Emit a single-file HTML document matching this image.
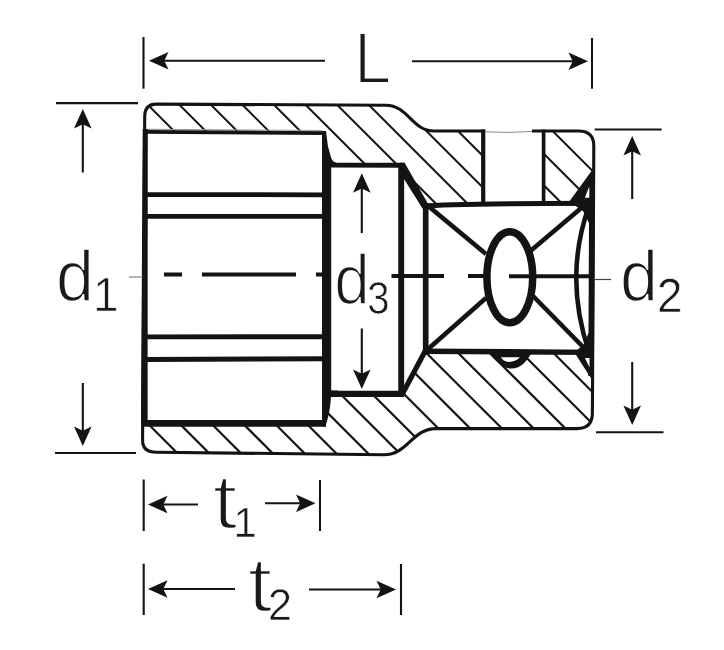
<!DOCTYPE html>
<html><head><meta charset="utf-8">
<style>
html,body{margin:0;padding:0;background:#fff;}
svg{display:block;}
text{font-family:"Liberation Sans",sans-serif;fill:#1a1a1a;stroke:#fff;}
</style></head>
<body>
<svg width="724" height="650" viewBox="0 0 724 650">
<rect width="724" height="650" fill="#fff"/>
<defs>
<filter id="ident" x="0" y="0" width="724" height="650" filterUnits="userSpaceOnUse"><feOffset dx="0" dy="0"/></filter>
<clipPath id="bodyclip"><path d="M144.7,116.5 Q144.7,104.1 156.5,104.1 L386,105.2 C408,105.2 412,131 434,131 L578.5,131 Q593.8,131 593.8,146 L592.4,413 Q592.4,428.6 577,428.6 L436,428.6 C412,428.6 408,454.8 384,454.8 L156.5,452.2 Q142.6,452.2 142.6,440.5 Z"/></clipPath>
</defs>

<!-- hatching -->
<g clip-path="url(#bodyclip)" stroke="#131313" stroke-width="2" fill="none">
<line x1="143.0" y1="100" x2="255.0" y2="212"/>
<line x1="174.6" y1="100" x2="286.6" y2="212"/>
<line x1="206.1" y1="100" x2="318.1" y2="212"/>
<line x1="237.7" y1="100" x2="349.6" y2="212"/>
<line x1="269.2" y1="100" x2="381.2" y2="212"/>
<line x1="300.8" y1="100" x2="412.8" y2="212"/>
<line x1="332.3" y1="100" x2="444.3" y2="212"/>
<line x1="363.9" y1="100" x2="475.9" y2="212"/>
<line x1="395.4" y1="100" x2="507.4" y2="212"/>
<line x1="426.9" y1="100" x2="539.0" y2="212"/>
<line x1="458.5" y1="100" x2="570.5" y2="212"/>
<line x1="490.1" y1="100" x2="602.0" y2="212"/>
<line x1="521.6" y1="100" x2="633.6" y2="212"/>
</g>
<g clip-path="url(#bodyclip)" stroke="#131313" stroke-width="2.2" fill="none">
<line x1="69.2" y1="345" x2="182.2" y2="458"/>
<line x1="100.9" y1="345" x2="213.9" y2="458"/>
<line x1="132.7" y1="345" x2="245.7" y2="458"/>
<line x1="164.4" y1="345" x2="277.4" y2="458"/>
<line x1="196.2" y1="345" x2="309.2" y2="458"/>
<line x1="227.9" y1="345" x2="340.9" y2="458"/>
<line x1="259.7" y1="345" x2="372.7" y2="458"/>
<line x1="291.4" y1="345" x2="404.4" y2="458"/>
<line x1="323.2" y1="345" x2="436.2" y2="458"/>
<line x1="354.9" y1="345" x2="467.9" y2="458"/>
<line x1="386.7" y1="345" x2="499.7" y2="458"/>
<line x1="418.4" y1="345" x2="531.5" y2="458"/>
<line x1="450.2" y1="345" x2="563.2" y2="458"/>
<line x1="481.9" y1="345" x2="595.0" y2="458"/>
<line x1="513.7" y1="345" x2="626.7" y2="458"/>
<line x1="545.5" y1="345" x2="658.5" y2="458"/>
</g>

<!-- cavities (white) -->
<g fill="#fff" stroke="none">
<rect x="145" y="131" width="183" height="292"/>
<rect x="328" y="164" width="74" height="228.5"/>
<polygon points="401,164 426,205 426,351 401,392.5"/>
<rect x="425" y="204" width="168" height="148"/>
<rect x="483" y="131" width="61" height="74"/>
<polygon points="567,205 593,173 593,205"/>
<polygon points="575,351 593,376 593,351"/>
</g>

<!-- labels (thinned with white stroke) -->
<g id="labels" filter="url(#ident)">
<text id="Ltxt" x="354.1" y="82.9" font-size="72" stroke-width="2.1" textLength="37.2" lengthAdjust="spacingAndGlyphs">L</text>
<text x="55.9" y="301.3" font-size="72" stroke-width="1.6" textLength="38" lengthAdjust="spacingAndGlyphs">d</text>
<text x="93" y="311.3" font-size="48" stroke-width="0.7" textLength="25.5" lengthAdjust="spacingAndGlyphs">1</text>
<text x="334.3" y="303.5" font-size="71" stroke-width="1.7" textLength="35.5" lengthAdjust="spacingAndGlyphs">d</text>
<text x="367.3" y="313.7" font-size="46.5" stroke-width="0.7" textLength="22.3" lengthAdjust="spacingAndGlyphs">3</text>
<text x="620" y="301.3" font-size="72" stroke-width="1.6" textLength="38" lengthAdjust="spacingAndGlyphs">d</text>
<text x="657" y="311.6" font-size="47.5" stroke-width="0.6" textLength="25.5" lengthAdjust="spacingAndGlyphs">2</text>
<text x="212.6" y="528.2" font-size="77" stroke-width="2.3" textLength="25" lengthAdjust="spacingAndGlyphs">t</text>
<text x="233.5" y="537.3" font-size="42" stroke-width="0.6">1</text>
<text x="247.6" y="611.2" font-size="77" stroke-width="2.3" textLength="25" lengthAdjust="spacingAndGlyphs">t</text>
<text x="268" y="620.3" font-size="45" stroke-width="0.6" textLength="24" lengthAdjust="spacingAndGlyphs">2</text>
</g>

<!-- outline -->
<path d="M144.7,116.5 Q144.7,104.1 156.5,104.1 L386,105.2 C408,105.2 412,131 434,131 L578.5,131 Q593.8,131 593.8,146 L592.4,413 Q592.4,428.6 577,428.6 L436,428.6 C412,428.6 408,454.8 384,454.8 L156.5,452.2 Q142.6,452.2 142.6,440.5 Z" fill="none" stroke="#131313" stroke-width="3.1"/>

<g stroke="#131313" fill="none" stroke-linecap="butt">
<!-- thin gray line below top hatch -->
<line x1="147" y1="129.4" x2="322" y2="130.5" stroke="#9a9a9a" stroke-width="1.1"/>
<!-- hex cavity -->
<polygon points="142.7,129 147.8,129 147.6,426 141,426" fill="#131313" stroke="none"/>
<line x1="143" y1="131.9" x2="326" y2="133.1" stroke-width="3.6"/>
<line x1="143" y1="423.3" x2="326" y2="423.3" stroke-width="6.8"/>
<line x1="145" y1="194.6" x2="323" y2="194.8" stroke-width="4.7"/>
<line x1="145" y1="216.4" x2="323" y2="216.4" stroke-width="4.9"/>
<line x1="145" y1="336.9" x2="323" y2="336.7" stroke-width="4.9"/>
<line x1="145" y1="359.4" x2="323" y2="358.8" stroke-width="5"/>
<!-- right wall of hex cavity -->
<path d="M322,131 H326 L327.9,146 L330.6,156 C331.5,159.5 333,162 336.5,162.8 V167 H331.2 V390.6 H338 V397 H330.9 C330.6,406 328.5,418 325.3,426.4 H322 Z" fill="#131313" stroke="none"/>
<!-- d3 cavity -->
<line x1="328" y1="165.1" x2="404.3" y2="165.3" stroke-width="4.9"/>
<line x1="328" y1="393.8" x2="404" y2="393.8" stroke-width="6.2"/>
<line x1="401.2" y1="163" x2="401.2" y2="396" stroke-width="5.9"/>
<polygon points="400,162.8 404.6,162.8 429,205.5 428.5,208.5 422.5,208.5 404,179" fill="#131313" stroke="none"/>
<line x1="401.8" y1="395" x2="426.8" y2="348" stroke-width="5.2"/>
<line x1="425.7" y1="204" x2="425.7" y2="353.5" stroke-width="5.7"/>
<!-- drive square -->
<path d="M424,206.2 C440,204.3 480,203.5 592,203.3" stroke-width="4.9"/>
<line x1="424" y1="351.2" x2="592" y2="352.4" stroke-width="5.4"/>
<!-- through hole -->
<rect x="485.3" y="128" width="46.7" height="6" fill="#fff" stroke="none"/>
<line x1="483.2" y1="129.6" x2="483.2" y2="204" stroke-width="4.2"/>
<line x1="543.6" y1="129.6" x2="543.6" y2="204" stroke-width="3.7"/>
<path d="M485,131.8 Q508,133.2 532,131.5" stroke="#8a8a8a" stroke-width="1"/>
<!-- right wall thick -->
<line x1="592" y1="176" x2="591.1" y2="376" stroke-width="5.6"/>
<!-- diagonals -->
<line x1="427" y1="205" x2="486" y2="254" stroke-width="4.6"/>
<line x1="586" y1="204" x2="531" y2="250.5" stroke-width="4.6"/>
<line x1="427" y1="350" x2="486" y2="298" stroke-width="4.6"/>
<line x1="587" y1="351" x2="533" y2="296" stroke-width="4.6"/>
<!-- right arc -->
<path d="M589,206 Q563.5,277 589,352" stroke-width="4.6"/>
<!-- ellipse -->
<ellipse cx="509.8" cy="277.2" rx="22.9" ry="45.5" stroke-width="7.5"/>
<!-- ball detent -->
<path d="M486,351 C493,356 500,368.6 511,368.6 C522,368.6 527,360 531.5,353 Z" fill="#131313" stroke="none"/>
<path d="M501,357.3 H520 C517,360.5 513,361.9 509,361.9 C505,361.9 502,360 501,357.3 Z" fill="#fff" stroke="none"/>
<!-- corner blobs -->
<path d="M594.7,170 V223 H589 L583,211 L575,205.5 H565.5 L570,200.5 L591.5,171 Z" fill="#131313" stroke="none"/>
<path d="M593.9,379 V333 H588.5 L583.5,345 L577,350 H573 L577,356.5 L590.5,377.5 Z" fill="#131313" stroke="none"/>
<polygon points="589.3,186.5 589.3,197.8 584.8,197.8" fill="#fff" stroke="none"/>
<polygon points="585,358 589.5,358 589.5,367.5" fill="#fff" stroke="none"/>
<!-- centre line -->
<g stroke-width="4">
<line x1="164" y1="274.5" x2="182" y2="274.5"/>
<line x1="202" y1="274.5" x2="296" y2="274.5"/>
<line x1="316" y1="274.5" x2="331" y2="274.5"/>
<line x1="391.5" y1="276" x2="444" y2="276"/>
<line x1="468" y1="276" x2="486" y2="276"/>
<line x1="509" y1="276.3" x2="593" y2="276.3"/>
</g>
<line x1="129" y1="277" x2="143" y2="277" stroke="#666" stroke-width="1"/>
<line x1="595" y1="279.5" x2="611" y2="279.5" stroke="#444" stroke-width="1.2"/>
</g>

<!-- dimension lines -->
<g stroke="#131313" stroke-width="2.1" fill="none">
<line x1="143.5" y1="37" x2="143.5" y2="88.7"/>
<line x1="592" y1="38" x2="592" y2="88.7"/>
<line x1="160" y1="60.7" x2="325" y2="60.7"/>
<line x1="412" y1="61.3" x2="575" y2="61.3"/>
<line x1="56" y1="103.1" x2="138" y2="103.1"/>
<line x1="55" y1="453" x2="136" y2="453"/>
<line x1="82.8" y1="120" x2="82.8" y2="172.5"/>
<line x1="82.8" y1="383" x2="82.8" y2="435"/>
<line x1="594.7" y1="129.5" x2="661.7" y2="129.5"/>
<line x1="596" y1="432.3" x2="663.5" y2="432.3"/>
<line x1="632.2" y1="147" x2="632.2" y2="199"/>
<line x1="632.2" y1="362" x2="632.2" y2="414"/>
<line x1="361.8" y1="184" x2="361.8" y2="233"/>
<line x1="361.8" y1="328.5" x2="361.8" y2="378"/>
<line x1="143.7" y1="479.5" x2="143.7" y2="531"/>
<line x1="320" y1="480" x2="320" y2="531"/>
<line x1="160" y1="504.5" x2="198" y2="504.5"/>
<line x1="265" y1="503.3" x2="303" y2="503.3"/>
<line x1="143.7" y1="563.7" x2="143.7" y2="615"/>
<line x1="401" y1="564" x2="401" y2="615"/>
<line x1="160" y1="589" x2="235" y2="589"/>
<line x1="309" y1="589.5" x2="384" y2="589.5"/>
</g>
<g fill="#131313" stroke="none">
<polygon points="149.0,60.7 168.5,51.9 164.3,60.7 168.5,69.5"/>
<polygon points="588.0,61.3 568.5,52.5 572.7,61.3 568.5,70.1"/>
<polygon points="82.8,109.0 74.0,128.5 82.8,124.3 91.6,128.5"/>
<polygon points="82.8,446.0 74.0,426.5 82.8,430.7 91.6,426.5"/>
<polygon points="632.2,136.0 623.4,155.5 632.2,151.3 641.0,155.5"/>
<polygon points="632.2,425.0 623.4,405.5 632.2,409.7 641.0,405.5"/>
<polygon points="361.8,173.3 353.0,192.8 361.8,188.6 370.6,192.8"/>
<polygon points="361.8,389.0 353.0,369.5 361.8,373.7 370.6,369.5"/>
<polygon points="148.0,504.5 167.5,495.7 163.3,504.5 167.5,513.3"/>
<polygon points="315.5,503.3 296.0,494.5 300.2,503.3 296.0,512.1"/>
<polygon points="148.0,589.0 167.5,580.2 163.3,589.0 167.5,597.8"/>
<polygon points="396.0,589.5 376.5,580.7 380.7,589.5 376.5,598.3"/>
</g>
</svg>
</body></html>
